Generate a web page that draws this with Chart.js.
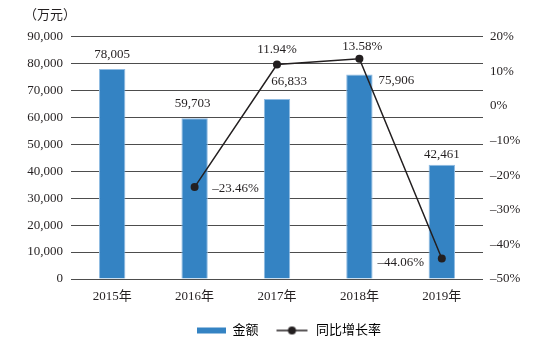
<!DOCTYPE html>
<html>
<head>
<meta charset="utf-8">
<script src="https://cdn.jsdelivr.net/npm/chart.js@4"></script>
<style>
  html, body { margin: 0; padding: 0; background: #fff; }
</style>
</head>
<body>
<canvas id="myChart" width="542" height="343"></canvas>
<script>
"use strict"

// values
let years = ["2015年", "2016年", "2017年", "2018年", "2019年"];
let amounts = [78005, 59703, 66833, 75906, 42461];
let growthRates = [null, -23.46, 11.94, 13.58, -44.06];
let amountTicks = [0, 10000, 20000, 30000, 40000, 50000, 60000, 70000, 80000, 90000];
let rateTicks = [-50, -40, -30, -20, -10, 0, 10, 20];

// where each value label sits, relative to its bar top / point
let amountLabelShift = [[0, -14], [-2, -15], [12, -17], [37, 6], [0, -10]];
let rateLabelShift = [null, [41, 1], [0, -15], [3, -12], [-41, 4]];

const barColor = "#3483c3";
const lineColor = "#231f20";
const textColor = "#231f20";

Chart.defaults.font.family = '"Liberation Serif", "Noto Sans CJK SC", serif';
Chart.defaults.font.size = 13;
Chart.defaults.color = textColor;

function formatAmount(v) {
  return v.toLocaleString("en-US");
}

function formatRate(v) {
  let s = Math.abs(v).toFixed(2) + "%";
  return v < 0 ? "\u2013" + s : s;
}

// little pictures for the legend
function legendBar() {
  let c = document.createElement("canvas");
  c.width = 41;
  c.height = 8;
  let g = c.getContext("2d");
  g.fillStyle = barColor;
  g.fillRect(12, 1, 29, 6);
  return c;
}

function legendLine() {
  let c = document.createElement("canvas");
  c.width = 41;
  c.height = 10;
  let g = c.getContext("2d");
  g.strokeStyle = lineColor;
  g.fillStyle = lineColor;
  g.lineWidth = 1.5;
  g.beginPath();
  g.moveTo(8, 5);
  g.lineTo(39, 5);
  g.stroke();
  g.beginPath();
  g.arc(23.5, 5, 4, 0, Math.PI * 2);
  g.fill();
  return c;
}

// draws the numbers next to bars and points
const valueLabels = {
  id: "valueLabels",
  afterDatasetsDraw(chart) {
    let ctx = chart.ctx;
    ctx.save();
    ctx.font = '13px "Liberation Serif", serif';
    ctx.fillStyle = textColor;
    ctx.textAlign = "center";
    ctx.textBaseline = "middle";
    let bars = chart.getDatasetMeta(0).data;
    for (let i = 0; i < bars.length; i++) {
      let s = amountLabelShift[i];
      ctx.fillText(formatAmount(amounts[i]), bars[i].x + s[0], bars[i].y + s[1]);
    }
    let points = chart.getDatasetMeta(1).data;
    for (let i = 0; i < points.length; i++) {
      if (growthRates[i] === null) continue;
      let s = rateLabelShift[i];
      ctx.fillText(formatRate(growthRates[i]), points[i].x + s[0], points[i].y + s[1]);
    }
    ctx.restore();
  }
};

const ctx = document.getElementById("myChart").getContext("2d");
const myChart = new Chart(ctx, {
  type: "bar",
  data: {
    labels: years,
    datasets: [
      {
        type: "bar",
        label: "金额",
        data: amounts,
        yAxisID: "y",
        backgroundColor: barColor,
        borderColor: "#8fbbe2",
        borderWidth: 1,
        barPercentage: 0.32,
        categoryPercentage: 1,
        order: 1
      },
      {
        type: "line",
        label: "同比增长率",
        data: growthRates,
        yAxisID: "y1",
        borderColor: lineColor,
        backgroundColor: lineColor,
        borderWidth: 1.5,
        pointRadius: 4,
        pointBackgroundColor: lineColor,
        pointBorderWidth: 0,
        tension: 0,
        order: 0
      }
    ]
  },
  options: {
    responsive: false,
    devicePixelRatio: 1,
    animation: false,
    layout: {
      padding: { left: 24, right: 0, top: 0, bottom: -4 }
    },
    plugins: {
      title: {
        display: true,
        text: "（万元）",
        align: "start",
        color: textColor,
        font: { size: 13, weight: "normal" },
        padding: { top: 8, bottom: 13 }
      },
      legend: {
        position: "bottom",
        labels: {
          usePointStyle: true,
          pointStyleWidth: 41,
          padding: 10,
          font: { size: 13 },
          generateLabels() {
            return [
              { text: "金额", pointStyle: legendBar(), fillStyle: barColor, strokeStyle: barColor, lineWidth: 0, hidden: false, datasetIndex: 0 },
              { text: "同比增长率", pointStyle: legendLine(), fillStyle: lineColor, strokeStyle: lineColor, lineWidth: 0, hidden: false, datasetIndex: 1 }
            ];
          }
        }
      },
      tooltip: { enabled: false }
    },
    scales: {
      x: {
        grid: { display: false, drawTicks: false },
        border: { display: false },
        ticks: { padding: 10 },
        afterFit(scale) { scale.height = 35; }
      },
      y: {
        position: "left",
        min: amountTicks[0],
        max: amountTicks[amountTicks.length - 1],
        grid: { color: "#4d4d4d", lineWidth: 1, drawTicks: false },
        border: { display: false },
        ticks: {
          stepSize: amountTicks[1] - amountTicks[0],
          padding: 8,
          callback: (v) => formatAmount(v)
        },
        afterFit(scale) { scale.width = 47; }
      },
      y1: {
        position: "right",
        min: rateTicks[0],
        max: rateTicks[rateTicks.length - 1],
        grid: { display: false, drawTicks: false },
        border: { display: false },
        ticks: {
          stepSize: rateTicks[1] - rateTicks[0],
          padding: 7,
          callback: (v) => (v < 0 ? "\u2013" + Math.abs(v) : v) + "%"
        },
        afterFit(scale) { scale.width = 59; }
      }
    }
  },
  plugins: [valueLabels]
});
</script>
</body>
</html>
